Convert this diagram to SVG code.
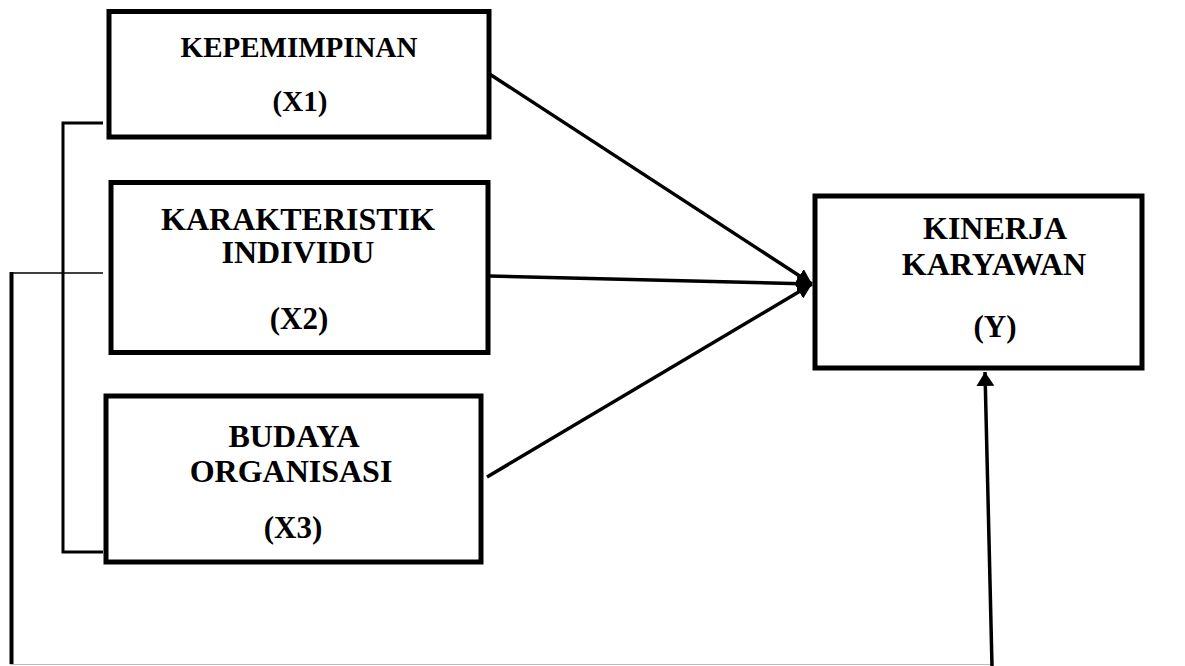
<svg xmlns="http://www.w3.org/2000/svg" width="1185" height="666" viewBox="0 0 1185 666">
<style>
.box{fill:#fff;stroke:#000;stroke-width:5}
.t{font-family:"Liberation Serif","Times New Roman",serif;font-weight:bold;font-size:29px;fill:#000;text-anchor:middle}
.b{font-size:32px}
.v{font-size:31px}
.c{stroke:#000;stroke-width:3.5;fill:none}
.br{stroke:#000;stroke-width:3;fill:none}
</style>
<defs>
<marker id="ah" markerUnits="userSpaceOnUse" markerWidth="16" markerHeight="16" refX="15" refY="8" orient="auto">
<path d="M0,0 L15,8 L0,16 z" fill="#000"/>
</marker>
<marker id="ah2" markerUnits="userSpaceOnUse" markerWidth="14" markerHeight="18" refX="14" refY="9" orient="auto">
<path d="M0,0 L14,9 L0,18 z" fill="#000"/>
</marker>
</defs>
<rect width="1185" height="666" fill="#fff"/>
<g id="connectors">
<polyline class="br" points="103,123 63,123 63,552 103,552"/>
<line x1="11" y1="273" x2="103" y2="273" stroke="#000" stroke-width="1.5"/>
<line x1="11.5" y1="272" x2="11.5" y2="664" stroke="#000" stroke-width="4"/>
<line x1="10" y1="664.5" x2="992" y2="664.5" stroke="#bbb" stroke-width="1"/>
<line class="c" x1="488" y1="73" x2="812" y2="284" marker-end="url(#ah)"/>
<line class="c" x1="489" y1="276" x2="812" y2="284" marker-end="url(#ah)"/>
<line class="c" x1="487" y1="477" x2="812" y2="284" marker-end="url(#ah)"/>
<line class="c" x1="992" y1="666" x2="985" y2="372" marker-end="url(#ah2)"/>
</g>
<g id="x1">
<rect class="box" x="109" y="11.5" width="380" height="125.5"/>
<text class="t" x="299" y="57">KEPEMIMPINAN</text>
<text class="t" x="300" y="111">(X1)</text>
</g>
<g id="x2">
<rect class="box" x="111" y="182.5" width="377" height="170"/>
<text class="t b" x="298" y="230">KARAKTERISTIK</text>
<text class="t b" x="298" y="263">INDIVIDU</text>
<text class="t v" x="299" y="329">(X2)</text>
</g>
<g id="x3">
<rect class="box" x="106" y="396" width="375" height="166"/>
<text class="t b" x="294" y="447">BUDAYA</text>
<text class="t b" x="291" y="482">ORGANISASI</text>
<text class="t v" x="293" y="538">(X3)</text>
</g>
<g id="y">
<rect class="box" x="815" y="196" width="327" height="172"/>
<text class="t b" x="995" y="239">KINERJA</text>
<text class="t b" x="994" y="275">KARYAWAN</text>
<text class="t v" x="995" y="337">(Y)</text>
</g>
</svg>
